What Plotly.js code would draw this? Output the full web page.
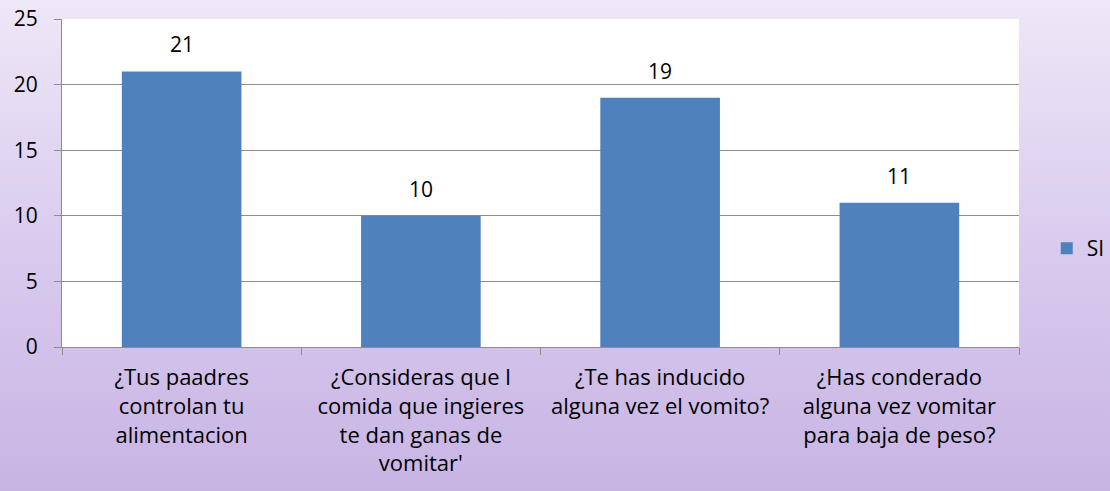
<!DOCTYPE html>
<html><head><meta charset="utf-8">
<script src="https://cdn.plot.ly/plotly-3.0.1.min.js"></script>
<style>
html,body{margin:0;padding:0;}
#chart{width:1110px;height:491px;background:linear-gradient(to bottom,#eee7f7 0%,#d9cbee 50%,#c8b4e4 100%);}
</style></head>
<body><div id="chart"></div>
<script>
const categories = [
  "¿Tus paadres<br>controlan tu<br>alimentacion",
  "¿Consideras que l<br>comida que ingieres<br>te dan ganas de<br>vomitar'",
  "¿Te has inducido<br>alguna vez el vomito?",
  "¿Has conderado<br>alguna vez vomitar<br>para baja de peso?"
];
const siValues = [21, 10, 19, 11];
const seriesName = "SI";
const yTicks = [0, 5, 10, 15, 20, 25];

const font = {family: "Open Sans, Liberation Sans, sans-serif", size: 21, color: "#000"};
const xfont = {family: "Open Sans, Liberation Sans, sans-serif", size: 22, color: "#000"};

Plotly.newPlot("chart", [{
  type: "bar",
  x: categories,
  y: siValues,
  name: seriesName,
  marker: {color: "#4f81bd"},
  width: 0.5,
  showlegend: true,
  hoverinfo: "none"
}], {
  width: 1110, height: 491,
  paper_bgcolor: "rgba(0,0,0,0)",
  plot_bgcolor: "#ffffff",
  margin: {l: 62, r: 91, t: 19, b: 144, autoexpand: false},
  font: font,
  showlegend: true,
  legend: {x: 1.029, y: 0.30, xanchor: "left", yanchor: "middle", font: font, bgcolor: "rgba(0,0,0,0)"},
  annotations: categories.map((c, i) => ({
    x: c, y: siValues[i], xref: "x", yref: "y",
    text: String(siValues[i]), showarrow: false,
    yanchor: "bottom", yshift: 11, font: font
  })),
  xaxis: {
    type: "category",
    showline: true, linecolor: "#8c8c8c", linewidth: 1,
    ticks: "outside", tickson: "boundaries", ticklen: 7, tickcolor: "#8c8c8c",
    showgrid: false,
    tickfont: xfont,
    tickangle: 0,
    ticklabelstandoff: 11
  },
  yaxis: {
    range: [0, 25],
    tickvals: yTicks,
    showline: true, linecolor: "#8c8c8c", linewidth: 1,
    ticks: "outside", ticklen: 7, tickcolor: "#8c8c8c",
    showgrid: true, gridcolor: "#8c8c8c", gridwidth: 1,
    zeroline: false,
    tickfont: font,
    ticklabelstandoff: 12
  }
}, {displayModeBar: false, staticPlot: true});
</script></body></html>
